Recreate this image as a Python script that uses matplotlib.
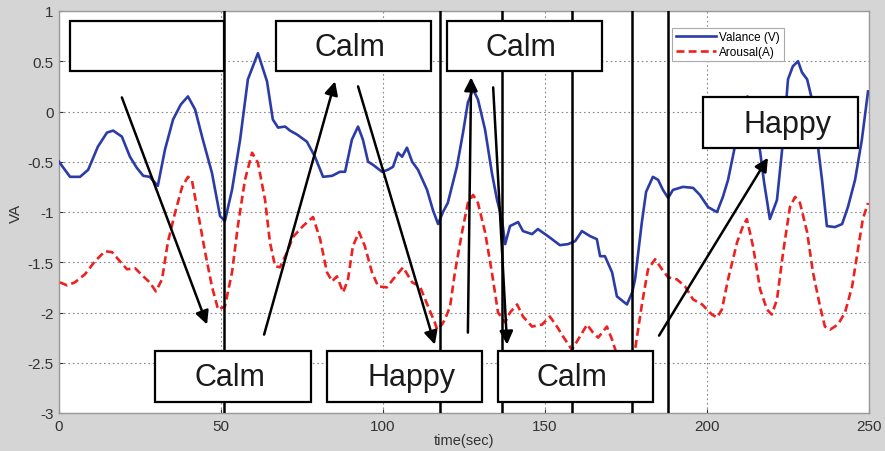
import numpy as np
import matplotlib
matplotlib.use('Agg')
import matplotlib.pyplot as plt
from matplotlib.patches import Rectangle

plt.rcParams['font.family'] = ['Liberation Sans', 'DejaVu Sans']

# Valance (V) curve
t_v = [0, 3.4, 6.5, 9, 12, 14.8, 16.7, 19.4, 21.9, 24, 26, 28, 30.5, 32.7, 35.2, 37.6, 39.8,
       42, 44.4, 47.2, 49.7, 51.2, 53.4, 55.9, 58.3, 61.4, 64.2, 66, 67.6, 69.8, 71.3, 73.5,
       76.5, 79, 81.5, 84.3, 86.7, 88.3, 90.4, 92.3, 93.8, 95.4, 96.9, 99.7, 101.5, 103.1,
       104.6, 105.9, 107.4, 109, 110.8, 113.6, 115.4, 117, 118.5, 120, 122.8, 124.7, 126.2,
       127.8, 129.3, 131.5, 133.6, 135.2, 136.7, 137.7, 139.2, 141.7, 143.2, 146, 147.8,
       150.9, 154.6, 157.1, 159.3, 161.4, 163.9, 166, 167, 168.5, 170.7, 172.2, 175.3, 176.9,
       177.8, 179.9, 181.2, 183.3, 184.9, 186.4, 188, 189.5, 192.6, 195.7, 197.8, 200.3,
       201.9, 203.1, 204.9, 206.5, 208.6, 210.5, 212.5, 214.5, 216.4, 217.6, 219.4, 221.6,
       223.5, 225, 226.5, 228.1, 229.3, 230.9, 232.4, 234, 235.5, 237, 239.5, 241.7, 243.5,
       245.7, 247.8, 249.7]
valance = [-0.50, -0.65, -0.65, -0.58, -0.35, -0.21, -0.19, -0.25, -0.45, -0.56, -0.64, -0.65,
           -0.74, -0.38, -0.08, 0.07, 0.15, 0.02, -0.28, -0.61, -1.04, -1.09, -0.78, -0.28,
           0.32, 0.58, 0.30, -0.08, -0.16, -0.15, -0.19, -0.23, -0.30, -0.45, -0.65, -0.64,
           -0.60, -0.60, -0.28, -0.15, -0.28, -0.50, -0.53, -0.60, -0.58, -0.55, -0.41, -0.45,
           -0.36, -0.50, -0.58, -0.78, -0.98, -1.12, -1.00, -0.91, -0.55, -0.21, 0.09, 0.22,
           0.12, -0.18, -0.61, -0.88, -1.07, -1.32, -1.14, -1.10, -1.19, -1.22, -1.17, -1.24,
           -1.33, -1.32, -1.29, -1.19, -1.24, -1.27, -1.44, -1.44, -1.60, -1.84, -1.92, -1.80,
           -1.67, -1.10, -0.80, -0.65, -0.68, -0.78, -0.86, -0.78, -0.75, -0.76, -0.83, -0.95,
           -0.98, -1.00, -0.85, -0.68, -0.35, -0.05, 0.15, -0.05, -0.40, -0.70, -1.07, -0.88,
           -0.28, 0.32, 0.45, 0.50, 0.39, 0.32, 0.12, -0.28, -0.68, -1.14, -1.15, -1.12, -0.95,
           -0.68, -0.28, 0.20]

# Arousal(A) curve
t_a = [0.3, 2.5, 4.9, 8, 11.1, 14.2, 16.4, 18.8, 21, 23.5, 26, 28, 29.9, 31.8, 33.6, 35.8, 38,
       39.8, 41, 42.9, 45.1, 47.2, 49.1, 51.2, 53.4, 55.2, 57.4, 59.6, 61.4, 63.6, 65.1, 66.7,
       68.2, 70.4, 72.2, 75.3, 78.4, 80.6, 82.7, 84.3, 85.8, 87.7, 89.2, 90.7, 92.6, 94.4,
       96.6, 98.5, 101.2, 103.1, 106.2, 109, 111.4, 113.9, 116, 116.7, 118.2, 119.1, 120.7,
       122.2, 124.4, 126.2, 127.8, 129.3, 131.5, 133.6, 135.5, 137.7, 139.2, 141.4, 143.2,
       146, 149.1, 151.5, 153.7, 155.6, 158.3, 160.2, 163, 164.8, 166.4, 169.1, 170.7, 172.5,
       175, 177.8, 180, 181.8, 184, 186.1, 188, 190.7, 193.2, 195.7, 198.5, 201.5, 203.1,
       204.6, 206.5, 209.3, 211.1, 212.3, 214.2, 216.4, 218.5, 220, 221.6, 223.5, 225.6,
       227.2, 228.7, 230.9, 232.7, 234.9, 236.4, 238, 240.4, 242.6, 244.8, 246.6, 248.1, 249.7]
arousal = [-1.70, -1.73, -1.70, -1.62, -1.49, -1.39, -1.40, -1.49, -1.57, -1.56, -1.64, -1.70,
           -1.79, -1.67, -1.30, -1.01, -0.75, -0.65, -0.68, -1.01, -1.40, -1.74, -1.97, -1.94,
           -1.60, -1.14, -0.68, -0.41, -0.51, -0.88, -1.30, -1.54, -1.55, -1.40, -1.25, -1.14,
           -1.05, -1.27, -1.60, -1.69, -1.64, -1.80, -1.67, -1.34, -1.20, -1.34, -1.60, -1.74,
           -1.75, -1.67, -1.55, -1.70, -1.74, -1.94, -2.10, -2.17, -2.12, -2.07, -1.94, -1.60,
           -1.20, -0.91, -0.83, -0.91, -1.20, -1.60, -2.00, -2.10, -2.00, -1.92, -2.04, -2.14,
           -2.12, -2.04, -2.14, -2.24, -2.37, -2.27, -2.12, -2.20, -2.25, -2.14, -2.27, -2.45,
           -2.55, -2.37, -1.90, -1.57, -1.47, -1.57, -1.65, -1.67, -1.74, -1.87, -1.92, -2.02,
           -2.05, -1.97, -1.67, -1.30, -1.14, -1.07, -1.34, -1.77, -1.97, -2.02, -1.87, -1.40,
           -0.95, -0.85, -0.91, -1.20, -1.60, -1.94, -2.14, -2.17, -2.12, -2.00, -1.74, -1.37,
           -1.07, -0.91]

# segment boundaries (time, sec)
boundaries = [50.9, 117.6, 136.7, 158.3, 176.9, 188.0]

# emotion label boxes: x0, x1, y0, y1, text
box_x0 = [3.4, 67.0, 119.8, 198.8, 29.6, 82.7, 135.5]
box_x1 = [50.9, 114.8, 167.6, 246.6, 77.8, 130.6, 183.3]
box_y0 = [0.40, 0.40, 0.40, -0.36, -2.89, -2.89, -2.89]
box_y1 = [0.90, 0.90, 0.90, 0.14, -2.38, -2.38, -2.38]
box_text = ['', 'Calm', 'Calm', 'Happy', 'Calm', 'Happy', 'Calm']

# arrows: tail -> head
arrow_from = [(19.4, 0.14), (63.3, -2.22), (92.3, 0.25), (126.2, -2.20), (134.0, 0.24), (185.2, -2.23)]
arrow_to = [(45.7, -2.12), (85.2, 0.30), (116.0, -2.32), (127.2, 0.34), (138.3, -2.32), (218.8, -0.46)]

fig = plt.figure(figsize=(8.85, 4.52), dpi=100, facecolor='#d5d5d5')
ax = fig.add_axes([59 / 885, 1 - 414 / 452, 810 / 885, 402 / 452])
ax.set_facecolor('white')

ax.plot(t_v, valance, color='#2b3ca8', lw=1.9, label='Valance (V)', zorder=3)
ax.plot(t_a, arousal, color='#ee2020', lw=1.9, ls=(0, (3, 1.6)), label='Arousal(A)', zorder=3)

for b in boundaries:
    ax.axvline(b, color='black', lw=1.8, zorder=4)

# text sits a little off-centre in the boxes of the original
text_shift = {'Calm': -1.0, 'Happy': 2.0}
for x0, x1, y0, y1, s in zip(box_x0, box_x1, box_y0, box_y1, box_text):
    ax.add_patch(Rectangle((x0, y0), x1 - x0, y1 - y0, facecolor='white',
                           edgecolor='black', lw=1.6, zorder=5))
    if s:
        ax.text((x0 + x1) / 2 + text_shift[s], (y0 + y1) / 2 - 0.01, s, fontsize=22,
                ha='center', va='center', color='#1a1a1a', zorder=6)

for p, q in zip(arrow_from, arrow_to):
    ax.annotate('', xy=q, xytext=p,
                arrowprops=dict(arrowstyle='-|>', color='black', lw=1.8,
                                mutation_scale=20, shrinkA=0, shrinkB=0),
                zorder=7)

ax.set_xlim(0, 250)
ax.set_ylim(-3, 1)
ax.set_xticks(np.arange(0, 251, 50))
ax.set_yticks(np.arange(-3, 1.01, 0.5))
ax.set_yticklabels(['-3', '-2.5', '-2', '-1.5', '-1', '-0.5', '0', '0.5', '1'])
ax.grid(True, color='#888888', ls=(0, (1.5, 2.5)), lw=0.8, zorder=1)
ax.tick_params(direction='in', length=3, labelsize=11, colors='#333333', pad=4)
for sp in ax.spines.values():
    sp.set_color('#999999')
    sp.set_linewidth(1.0)

ax.set_xlabel('time(sec)', fontsize=10.5, color='#333333', labelpad=0)
ax.set_ylabel('VA', fontsize=11, color='#333333', labelpad=3)

leg = ax.legend(loc='upper left', bbox_to_anchor=(0.757, 0.958), fontsize=8.5,
                frameon=True, fancybox=False, framealpha=1, edgecolor='#aaaaaa',
                handlelength=3.4, borderpad=0.3, labelspacing=0.2, handletextpad=0.3,
                borderaxespad=0)
leg.set_zorder(8)
leg.get_frame().set_linewidth(0.8)

fig.savefig('out.png', dpi=100, facecolor=fig.get_facecolor())
